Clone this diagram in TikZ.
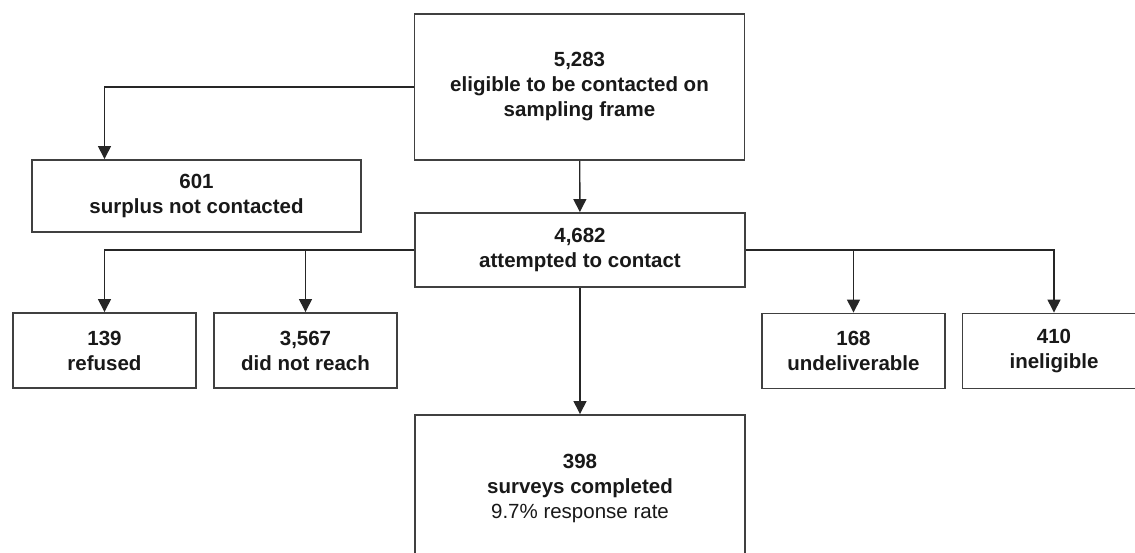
\documentclass[tikz,border=0pt]{standalone}
\usepackage{fontspec}
\setmainfont{Liberation Sans}
\usetikzlibrary{arrows.meta, positioning}

\begin{document}
\begin{tikzpicture}[
  x=1pt, y=-1pt,
  box/.style={draw=black!75, line width=1.9pt, fill=white, minimum width=330pt, align=center,
    font=\fontsize{20.5}{25}\selectfont\bfseries, text=black!90},
  small/.style={box, minimum width=183pt, minimum height=75pt},
  arr/.style={-{Triangle[length=13pt, width=13pt]}, line width=1.4pt, black!85}
]
  \useasboundingbox (0,0) rectangle (1135,553);

  \node[box, minimum height=146pt] (frame) at (579.5,87) {5,283\\eligible to be contacted on\\sampling frame};
  \node[box, minimum width=329pt, minimum height=72pt] (surplus) at (196.5,196) {601\\surplus not contacted};
  \node[box, minimum height=74pt] (attempted) at (580,250) {4,682\\attempted to contact};
  \node[small] (refused) at (104.5,350.5) {139\\refused};
  \node[small] (noreach) at (305.5,350.5) {3,567\\did not reach};
  \node[small] (undeliv) at (853.5,351) {168\\undeliverable};
  \node[small] (inelig) at (1054,351) {410\\ineligible};
  \node[box, minimum height=146pt] (completed) at (580,488) {398\\surveys completed\\{\mdseries 9.7\% response rate}};

  \draw[arr] (frame.west) -| (refused.north |- surplus.north);
  \draw[arr] (frame) -- (attempted);
  \draw[arr] (attempted.west) -| (refused.north);
  \draw[arr] (attempted.west) -| (noreach.north);
  \draw[arr] (attempted.east) -| (undeliv.north);
  \draw[arr] (attempted.east) -| (inelig.north);
  \draw[arr] (attempted) -- (completed);
\end{tikzpicture}
\end{document}
